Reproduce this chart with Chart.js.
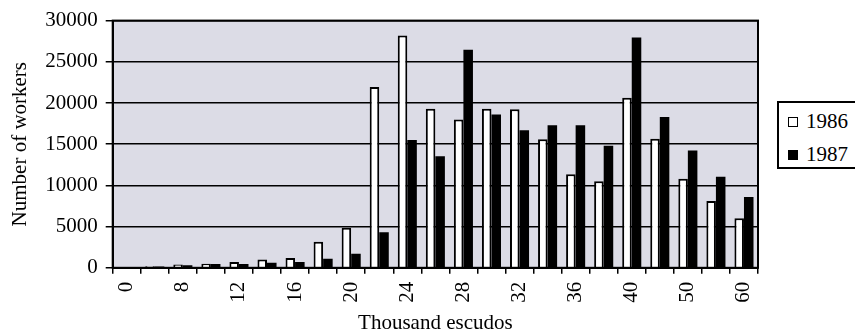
<!DOCTYPE html>
<html>
<head>
<meta charset="utf-8">
<script src="https://cdn.jsdelivr.net/npm/chart.js@4.4.1/dist/chart.umd.min.js"></script>
<style>
  body { margin: 0; background: #fff; }
  #wrap { position: relative; width: 855px; height: 336px; }
  #legend {
    position: absolute; left: 777px; top: 101px; width: 76px; height: 64px;
    border: 2px solid #000; border-right: none; background: #fff;
    font-family: "Liberation Serif", serif; font-size: 21px; color: #000;
  }
  #legend div { position: absolute; left: 9px; height: 22px; line-height: 22px; }
  #legend span { display: inline-block; width: 8px; height: 8px; border: 1.5px solid #000; margin-right: 8px; vertical-align: 1px; }
</style>
</head>
<body>
<div id="wrap">
  <canvas id="wageChart" width="855" height="336"></canvas>
  <div id="legend"></div>
</div>
<script>
const categories = ['0', '4', '8', '10', '12', '14', '16', '18', '20', '22', '24', '26',
                    '28', '30', '32', '34', '36', '38', '40', '45', '50', '55', '60'];
const workers1986 = [0, 200, 400, 500, 700, 1000, 1200, 3150, 4850, 21950, 28200, 19300,
                     18000, 19300, 19250, 15600, 11350, 10500, 20650, 15650, 10800, 8100, 6000];
const workers1987 = [0, 150, 300, 450, 450, 600, 700, 1100, 1700, 4300, 15500, 13550,
                     26450, 18600, 16700, 17300, 17300, 14800, 27950, 18300, 14250, 11050, 8600];
const yTicks = [0, 5000, 10000, 15000, 20000, 25000, 30000];

const serif = "'Liberation Serif', 'Times New Roman', serif";

// speckled grey plot background + frame
const plotFrame = {
    id: 'plotFrame',
    beforeDraw(chart) {
        const { ctx, chartArea: a } = chart;
        ctx.save();
        ctx.fillStyle = '#dcdce6';
        ctx.fillRect(a.left, a.top, a.right - a.left, a.bottom - a.top);
        ctx.restore();
    },
    afterDraw(chart) {
        const { ctx, chartArea: a } = chart;
        ctx.save();
        ctx.strokeStyle = '#000';
        ctx.lineWidth = 2;
        ctx.strokeRect(a.left, a.top, a.right - a.left, a.bottom - a.top);
        ctx.restore();
    }
};

const ctx = document.getElementById('wageChart').getContext('2d');
const wageChart = new Chart(ctx, {
    type: 'bar',
    data: {
        labels: categories,
        datasets: [{
            label: '1986',
            data: workers1986,
            backgroundColor: '#ffffff',
            borderColor: '#000000',
            borderWidth: 2,
            categoryPercentage: 0.68,
            barPercentage: 1
        }, {
            label: '1987',
            data: workers1987,
            backgroundColor: '#000000',
            borderColor: '#000000',
            borderWidth: 0,
            categoryPercentage: 0.68,
            barPercentage: 1
        }]
    },
    options: {
        responsive: false,
        animation: false,
        layout: { padding: { top: 9, right: 97, left: 4, bottom: 0 } },
        plugins: {
            legend: { display: false },
            tooltip: { enabled: false }
        },
        scales: {
            x: {
                grid: { offset: true, drawOnChartArea: false, color: '#000', lineWidth: 1.5, tickLength: 6 },
                border: { color: '#000', width: 2 },
                ticks: {
                    autoSkip: false,
                    minRotation: 90,
                    maxRotation: 90,
                    padding: 8,
                    color: '#000',
                    font: { family: serif, size: 21 },
                    callback: (v, i) => (i % 2 === 0 ? categories[i] : '')
                },
                title: { display: true, text: 'Thousand escudos', color: '#000', font: { family: serif, size: 21 }, padding: { top: 0, bottom: 0 } }
            },
            y: {
                min: 0,
                max: 30000,
                afterBuildTicks: axis => { axis.ticks = yTicks.map(v => ({ value: v })); },
                grid: { color: '#000', lineWidth: 1.5, tickLength: 7 },
                border: { color: '#000', width: 2 },
                ticks: { color: '#000', padding: 8, font: { family: serif, size: 21 }, callback: v => String(v) },
                title: { display: true, text: 'Number of workers', color: '#000', font: { family: serif, size: 21 }, padding: { bottom: 4 } }
            }
        }
    },
    plugins: [plotFrame]
});

// legend built from the datasets
const legendEl = document.getElementById('legend');
wageChart.data.datasets.forEach((ds, i) => {
    const row = document.createElement('div');
    row.style.top = (7 + i * 33) + 'px';
    row.innerHTML = `<span style="background:${ds.backgroundColor}"></span>${ds.label}`;
    legendEl.appendChild(row);
});
</script>
</body>
</html>
